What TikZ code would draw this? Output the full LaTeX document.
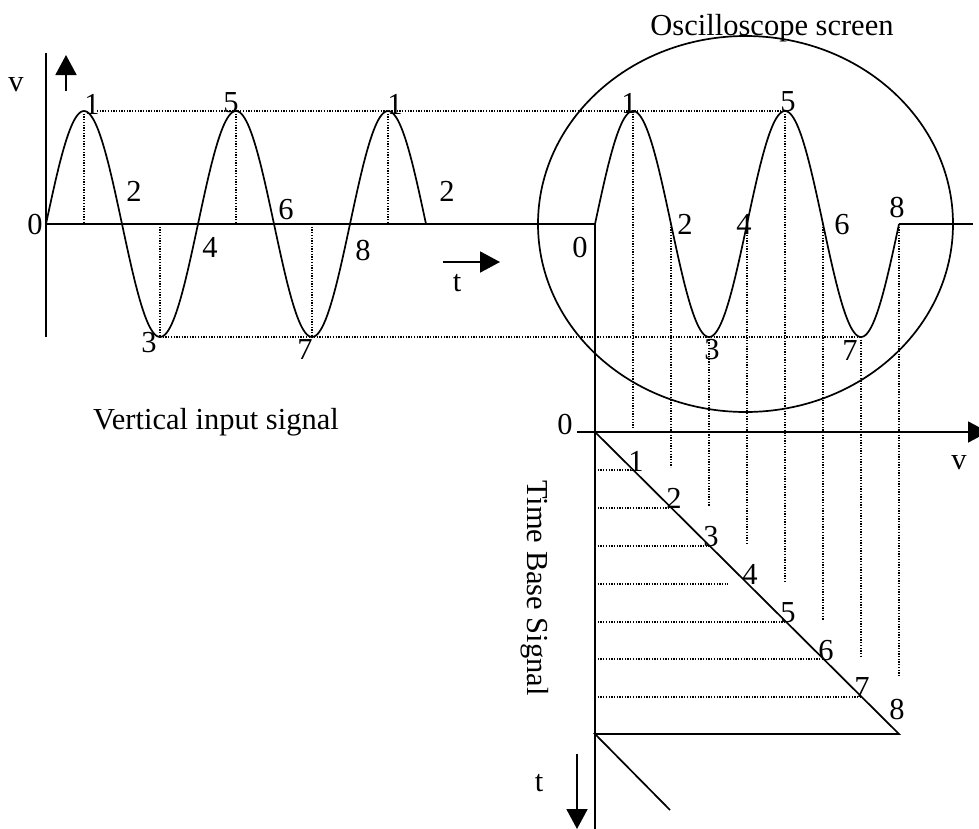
\documentclass[tikz,border=0pt]{standalone}
\usepackage{fontspec}
\setmainfont{Liberation Serif}
\usetikzlibrary{arrows.meta,shapes.geometric}
\begin{document}
\begin{tikzpicture}[x=1pt,y=-1pt,
  every node/.style={inner sep=0pt,outer sep=0pt,font=\fontsize{30.5}{36}\selectfont},
  ln/.style={line width=1.7pt},
  ax/.style={line width=1.9pt},
  dt/.style={line width=1.3pt,dash pattern=on 1.3pt off 1.4pt},
  arr/.style={ax,-{Triangle[length=20pt,width=21pt]}}]
\useasboundingbox (0,0) rectangle (979,828);

% ---------- left: vertical input signal ----------
\coordinate (vtop) at (46,53);
\coordinate (vbot) at (46,337);
\coordinate (o1) at (46,224);
\coordinate (s0) at (595,224);
\coordinate (s8) at (899,224);
\coordinate (hend) at (973,224);
\coordinate (sbot) at (595,830);
\draw[ax] (vtop) -- (vbot);
\draw[ax] (o1) -- (s0);
\draw[ax] (s8) -- (hend);
\draw[ax] (s0) -- (sbot);

\coordinate (uparB) at (66,91);
\coordinate (uparT) at (66,55);
\draw[arr] (uparB) -- (uparT);
\coordinate (tarL) at (443,262);
\coordinate (tarR) at (500,262);
\draw[arr] (tarL) -- (tarR);

\draw[ln] plot[domain=0:380,samples=240] ({46+\x},{224-113*sin(\x/152*360)});
\draw[ln] plot[domain=0:304,samples=200] ({595+\x},{224-113*sin(\x/152*360)});

% screen
\node[draw,ln,ellipse,minimum width=415pt,minimum height=376pt] (screen) at (745.5,224) {};
\node[anchor=base] (scrtitle) at (772,35) {Oscilloscope screen};

% dotted level lines
\coordinate (pk1) at (97,111);
\coordinate (pk5s) at (785,111);
\draw[dt] (pk1) -- (pk5s);
\coordinate (tr3) at (160,337);
\coordinate (tr7s) at (861,337);
\draw[dt] (tr3) -- (tr7s);

% left vertical dotted
\foreach \xx in {84,236,388} {\draw[dt] (\xx,111) -- (\xx,224);}
\foreach \xx in {160,312} {\draw[dt] (\xx,224) -- (\xx,337);}

% screen vertical dotted
\foreach \xx/\ya/\yb in {633/111/429, 671/224/467, 709/337/507, 747/224/544, 785/111/583, 823/224/620, 861/337/657, 899/224/677}
  {\draw[dt] (\xx,\ya) -- (\xx,\yb);}

% time base
\coordinate (tb0) at (595,432);
\coordinate (vaxL) at (577,432);
\coordinate (vaxR) at (988,432);
\draw[arr] (vaxL) -- (vaxR);
\coordinate (tb8) at (899,734);
\coordinate (tbb) at (595,734);
\coordinate (tbd) at (670,810);
\draw[ln] (tb0) -- (tb8) -- (tbb) -- (tbd);
\foreach \yy/\xe in {470/633, 508/671, 546/709, 584/728, 622/785, 659/823, 697/861}
  {\draw[dt] (595,\yy) -- (\xe,\yy);}
\coordinate (tarT) at (577,754);
\coordinate (tarB) at (577,829);
\draw[arr] (tarT) -- (tarB);

% labels left
\node (l0) at (35,225) {0};
\node (l1) at (92,104) {1};
\node (l2) at (134,191) {2};
\node (l3) at (149,343) {3};
\node (l4) at (210,247) {4};
\node (l5) at (231,103) {5};
\node (l6) at (286,210) {6};
\node (l7) at (305,350) {7};
\node (l8) at (363,250) {8};
\node (l1b) at (395,104) {1};
\node (l2b) at (447,191) {2};
\node (lv) at (16,85) {v};
\node (lt) at (457,283) {t};
\node[anchor=base] (vis) at (216,429) {Vertical input signal};

% labels screen
\node (s0l) at (580,248) {0};
\node (s1l) at (629,103) {1};
\node (s2l) at (685,224) {2};
\node (s3l) at (712,350) {3};
\node (s4l) at (744,224) {4};
\node (s5l) at (788,102) {5};
\node (s6l) at (842,225) {6};
\node (s7l) at (850,351) {7};
\node (s8l) at (897,208) {8};

% labels time base
\node (r0) at (565,424) {0};
\node (rv) at (959,463) {v};
\node (rt) at (539,783) {t};
\node (r1) at (636,461) {1};
\node (r2) at (674,498) {2};
\node (r3) at (711,537) {3};
\node (r4) at (750,574) {4};
\node (r5) at (788,613) {5};
\node (r6) at (826,651) {6};
\node (r7) at (862,688) {7};
\node (r8) at (897,709) {8};
\node[rotate=-90] (tbs) at (535,588) {Time Base Signal};
\end{tikzpicture}
\end{document}
